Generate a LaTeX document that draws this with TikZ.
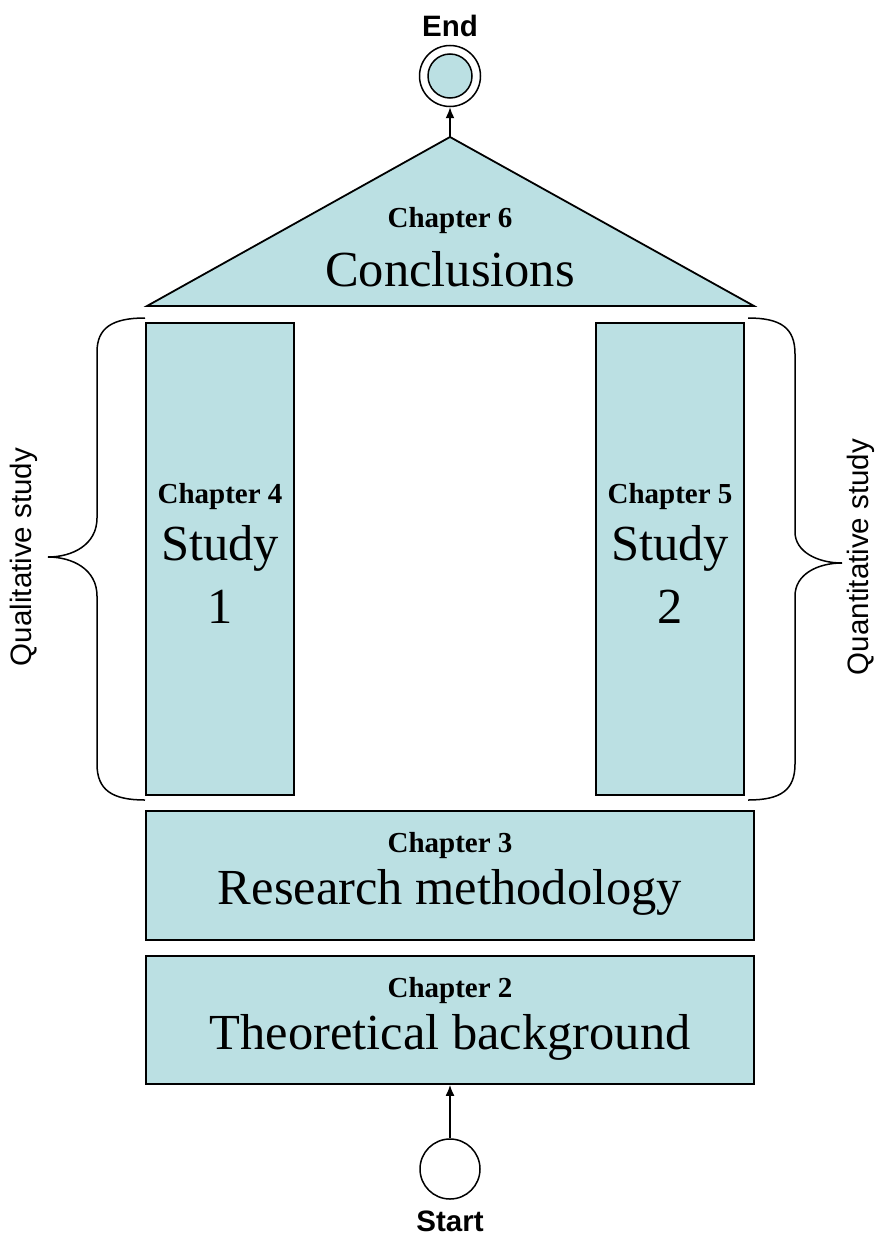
\documentclass[tikz,border=0pt]{standalone}
\usepackage{fontspec}
\setmainfont{Liberation Serif}
\newfontfamily\arialfont{Liberation Sans}
\usetikzlibrary{arrows.meta}
\definecolor{boxblue}{RGB}{187,224,227}
\tikzset{
  chbox/.style={draw=black, fill=boxblue, line width=1.8pt, inner sep=0pt},
  chlabel/.style={font=\fontsize{29}{32}\selectfont\bfseries, inner sep=0pt},
  chtitle/.style={font=\fontsize{50.5}{56}\selectfont, inner sep=0pt},
  sidelabel/.style={font=\arialfont\fontsize{29.5}{32}\selectfont, rotate=90, inner sep=0pt},
  endlabel/.style={font=\arialfont\bfseries\fontsize{29.5}{32}\selectfont, inner sep=0pt},
  brace/.style={draw=black, line width=1.5pt},
  conn/.style={draw=black, line width=1.5pt, -{Latex[length=11pt,width=9pt]}}
}
\begin{document}
\begin{tikzpicture}[x=1pt,y=-1pt]
\useasboundingbox (0,0) rectangle (878,1236);
% roof
\coordinate (apex) at (450,137);
\draw[chbox] (147,306) -- (754,306) -- (apex) -- cycle;
\node[chlabel] (c6l) at (450,221) {Chapter 6};
\node[chtitle] (c6t) at (450,269) {Conclusions};
% pillars
\node[chbox, minimum width=148pt, minimum height=472pt] (c4) at (220,559) {};
\node[chlabel] (c4l) at (220,497) {Chapter 4};
\node[chtitle] (c4t) at (220,548) {Study};
\node[chtitle] (c4n) at (220,607) {1};
\node[chbox, minimum width=148pt, minimum height=472pt] (c5) at (670,559) {};
\node[chlabel] (c5l) at (670,497) {Chapter 5};
\node[chtitle] (c5t) at (670,548) {Study};
\node[chtitle] (c5n) at (670,607) {2};
% base
\node[chbox, minimum width=608pt, minimum height=129pt] (c3) at (450,875.5) {};
\node[chlabel] (c3l) at (450,846) {Chapter 3};
\node[chtitle] (c3t) at (450,892) {Research methodology};
\node[chbox, minimum width=608pt, minimum height=128pt] (c2) at (450,1020) {};
\node[chlabel] (c2l) at (450,991) {Chapter 2};
\node[chtitle] (c2t) at (450,1037) {Theoretical background};
% start / end
\node[draw=black, line width=1.5pt, circle, minimum size=60pt, inner sep=0pt] (start) at (450,1169) {};
\node[endlabel] (startl) at (450,1221) {Start};
\node[draw=black, line width=1.5pt, circle, minimum size=61pt, inner sep=0pt] (endo) at (450,76) {};
\node[draw=black, fill=boxblue, line width=1.5pt, circle, minimum size=44pt, inner sep=0pt] (endi) at (450,76) {};
\node[endlabel] (endl) at (450,26) {End};
\draw[conn] (start.north) -- (c2.south);
\draw[conn] (apex) -- (endo.south);
% braces
\draw[brace] (145,318) .. controls (112,318) and (97,328) .. (97,352) -- (97,518)
  .. controls (97,545) and (72,557) .. (48,557)
  .. controls (72,557) and (97,569) .. (97,596) -- (97,764)
  .. controls (97,790) and (112,800) .. (145,800);
\node[sidelabel] (ql) at (24,557) {Qualitative study};
\draw[brace] (748,318) .. controls (781,318) and (795,328) .. (795,354) -- (795,532)
  .. controls (795,552) and (818,563) .. (842,563)
  .. controls (818,563) and (795,574) .. (795,596) -- (795,764)
  .. controls (795,790) and (781,800) .. (748,800);
\node[sidelabel] (qn) at (861,557) {Quantitative study};
\end{tikzpicture}
\end{document}
